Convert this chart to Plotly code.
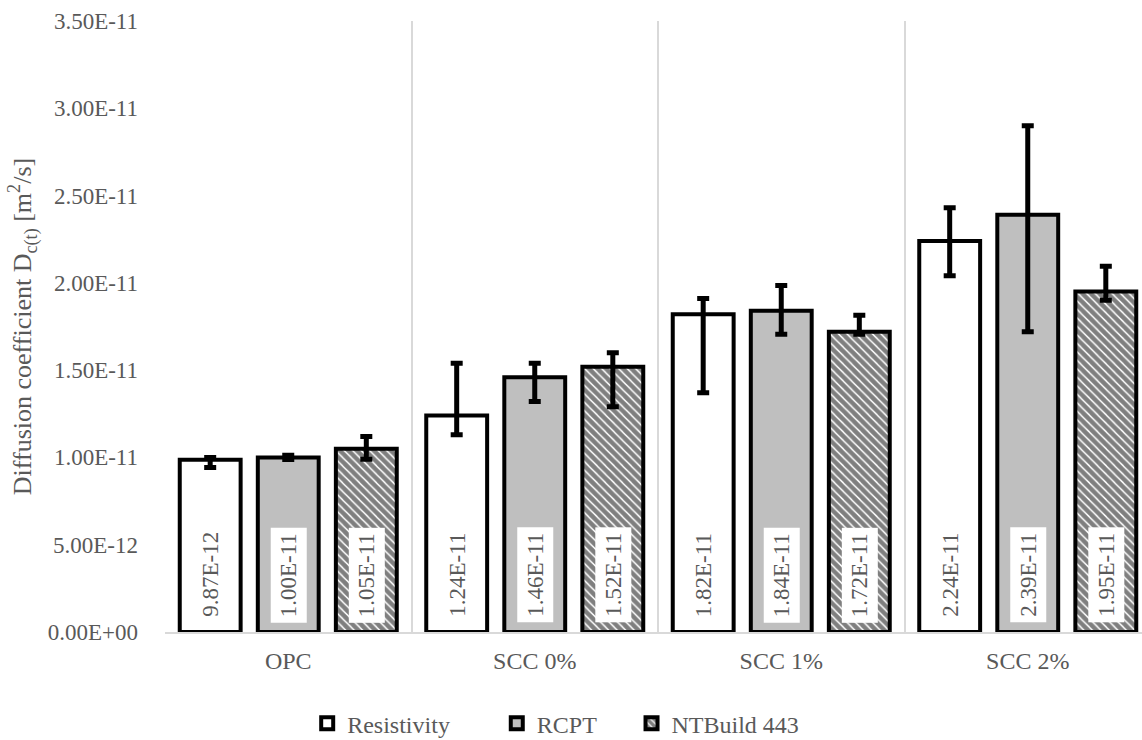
import plotly.graph_objects as go

# ---------------- data ----------------
categories = ["OPC", "SCC 0%", "SCC 1%", "SCC 2%"]
series_names = ["Resistivity", "RCPT", "NTBuild 443"]

resistivity = [9.87e-12, 1.24e-11, 1.82e-11, 2.24e-11]
rcpt = [1.00e-11, 1.46e-11, 1.84e-11, 2.39e-11]
ntbuild = [1.05e-11, 1.52e-11, 1.72e-11, 1.95e-11]

resistivity_err_plus = [0.12e-12, 3.0e-12, 0.9e-12, 1.9e-12]
resistivity_err_minus = [0.45e-12, 1.1e-12, 4.5e-12, 2.0e-12]
rcpt_err_plus = [0.12e-12, 0.8e-12, 1.45e-12, 5.1e-12]
rcpt_err_minus = [0.12e-12, 1.4e-12, 1.35e-12, 6.7e-12]
ntbuild_err_plus = [0.7e-12, 0.8e-12, 0.95e-12, 1.45e-12]
ntbuild_err_minus = [0.6e-12, 2.3e-12, 0.15e-12, 0.5e-12]

y_tick_values = [0.0, 0.5e-11, 1.0e-11, 1.5e-11, 2.0e-11, 2.5e-11, 3.0e-11, 3.5e-11]
y_tick_labels = [f"{v:.2E}" for v in y_tick_values]

# ---------------- style ----------------
FONT = "Liberation Serif"
TXT = "#595959"
BARGAP = 0.05
BARGROUPGAP = 0.22

values = [resistivity, rcpt, ntbuild]
err_plus = [resistivity_err_plus, rcpt_err_plus, ntbuild_err_plus]
err_minus = [resistivity_err_minus, rcpt_err_minus, ntbuild_err_minus]
fills = [
    dict(color="white"),
    dict(color="#bfbfbf"),
    dict(color="white", pattern=dict(shape="\\", fgcolor="black", bgcolor="white",
                                     size=6, solidity=0.75, fillmode="overlay")),
]
legend_ids = ["legend", "legend2", "legend3"]
legend_x = [0.269, 0.435, 0.553]

fig = go.Figure()
for name, vals, ep, em, fill, lid in zip(series_names, values, err_plus, err_minus, fills, legend_ids):
    fig.add_trace(go.Bar(
        name=name, x=categories, y=vals, legend=lid,
        marker=dict(line=dict(color="black", width=4), **fill),
        error_y=dict(type="data", symmetric=False, array=ep, arrayminus=em,
                     color="black", thickness=5, width=6),
    ))

# data labels with white boxes, positioned at each bar's centre
slot = (1 - BARGAP) / len(series_names)
for si, vals in enumerate(values):
    offset = (si - (len(series_names) - 1) / 2) * slot
    for ci, v in enumerate(vals):
        fig.add_annotation(
            x=ci + offset, y=0, xref="x", yref="y",
            text=f"{v:.2E}", textangle=-90, showarrow=False,
            yanchor="bottom", xanchor="center", yshift=9,
            bgcolor="white", borderpad=5,
            font=dict(family=FONT, size=23, color=TXT),
        )

legend_common = dict(orientation="h", xref="container", yref="container",
                     xanchor="left", y=0.022, yanchor="middle",
                     font=dict(family=FONT, size=24, color=TXT),
                     bgcolor="rgba(0,0,0,0)")

fig.update_layout(
    width=1142, height=740,
    paper_bgcolor="white", plot_bgcolor="white",
    barmode="group", bargap=BARGAP, bargroupgap=BARGROUPGAP,
    margin=dict(l=165, r=0, t=21, b=108),
    font=dict(family=FONT, size=23, color=TXT),
    showlegend=True,
    legend=dict(x=legend_x[0], **legend_common),
    legend2=dict(x=legend_x[1], **legend_common),
    legend3=dict(x=legend_x[2], **legend_common),
)
fig.update_xaxes(
    type="category", range=[-0.5, 3.4635],
    tickson="boundaries", ticks="", showgrid=True, gridcolor="#d9d9d9", gridwidth=1.5,
    showline=True, linecolor="#d9d9d9", linewidth=1.5,
    tickfont=dict(family=FONT, size=24, color=TXT), ticklabelstandoff=6,
)
fig.update_yaxes(
    range=[0, 3.5e-11], tickvals=y_tick_values, ticktext=y_tick_labels,
    showgrid=False, zeroline=False, showline=False, ticks="",
    tickfont=dict(family=FONT, size=23, color=TXT), ticklabelstandoff=26,
    title=dict(text="Diffusion coefficient D<sub>c(t)</sub> [m<sup>2</sup>/s]",
               font=dict(family=FONT, size=26, color=TXT), standoff=8),
    automargin=False,
)

fig.write_html("out.html", config={"displayModeBar": False},
               post_script="document.body.style.margin='0px';")
